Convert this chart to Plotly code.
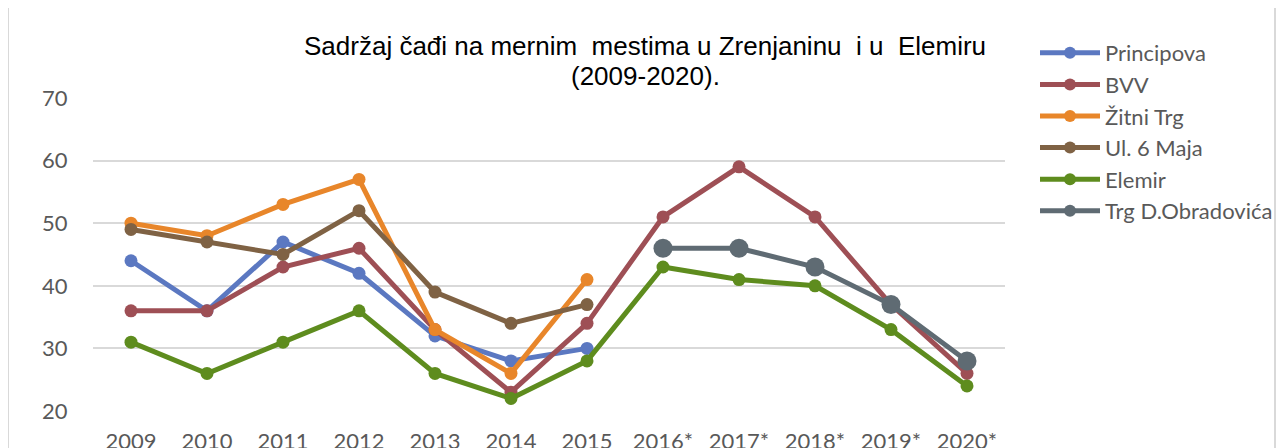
import plotly.graph_objects as go

years = ["2009", "2010", "2011", "2012", "2013", "2014", "2015",
         "2016*", "2017*", "2018*", "2019*", "2020*"]

principova = [44, 36, 47, 42, 32, 28, 30, None, None, None, None, None]
bvv = [36, 36, 43, 46, 33, 23, 34, 51, 59, 51, 37, 26]
zitni_trg = [50, 48, 53, 57, 33, 26, 41, None, None, None, None, None]
ul_6_maja = [49, 47, 45, 52, 39, 34, 37, None, None, None, None, None]
elemir = [31, 26, 31, 36, 26, 22, 28, 43, 41, 40, 33, 24]
trg_obradovica = [None, None, None, None, None, None, None, 46, 46, 43, 37, 28]

series = [
    ("Principova", principova, "#5B78C1", 13),
    ("BVV", bvv, "#9E4F55", 13),
    ("Žitni Trg", zitni_trg, "#E8862A", 13),
    ("Ul. 6 Maja", ul_6_maja, "#7F6244", 13),
    ("Elemir", elemir, "#5E8C1E", 13),
    ("Trg D.Obradovića", trg_obradovica, "#5F6B73", 19),
]

fig = go.Figure()
for i, (name, vals, color, msize) in enumerate(series):
    fig.add_trace(go.Scatter(
        x=years, y=vals, name=name, mode="lines+markers",
        line=dict(color=color, width=5),
        marker=dict(color=color, size=msize),
        legendgroup=f"g{i}",
    ))

# the page body has an 8px margin; positions below are page pixels
OFF = 8
W0, W1 = 93 - OFF, 1005 - OFF
H0, H1 = 98 - OFF, 411 - OFF
pw, ph = W1 - W0, H1 - H0

def px(x):
    return (x - OFF - W0) / pw

def py(y):
    return (H1 - (y - OFF)) / ph

fig.update_layout(
    width=1288, height=448,
    margin=dict(l=W0, r=1288 - W1, t=H0, b=448 - H1, pad=0, autoexpand=False),
    paper_bgcolor="white", plot_bgcolor="white",
    font=dict(family="Lato", color="#595959"),
    showlegend=True,
    legend=dict(
        x=px(1035), y=py(32), xanchor="left", yanchor="top",
        font=dict(family="Lato", size=22, color="#595959"),
        itemwidth=60, tracegroupgap=0, traceorder="grouped",
        itemsizing="constant",
        bgcolor="rgba(0,0,0,0)",
    ),
    xaxis=dict(
        type="category", range=[-0.5, 11.5], showgrid=False, zeroline=False,
        showline=False, ticks="outside", ticklen=0, automargin=False,
        tickfont=dict(family="Lato", size=22, color="#595959"),
        ticklabelstandoff=11,
    ),
    yaxis=dict(
        range=[20, 70], dtick=10, showgrid=True, gridcolor="#D9D9D9", gridwidth=2,
        zeroline=False, showline=False, ticks="outside", ticklen=0, automargin=False,
        tickfont=dict(family="Lato", size=22, color="#595959"),
        ticklabelstandoff=20,
    ),
    annotations=[
        dict(text="Sadržaj čađi na mernim  mestima u Zrenjaninu  i u  Elemiru",
             xref="paper", yref="paper", x=px(302), y=py(46),
             xanchor="left", yanchor="middle", showarrow=False,
             font=dict(family="Liberation Sans", size=26, color="#000000")),
        dict(text="(2009-2020).",
             xref="paper", yref="paper", x=px(645), y=py(76),
             xanchor="center", yanchor="middle", showarrow=False,
             font=dict(family="Liberation Sans", size=26, color="#000000")),
    ],
    shapes=[
        dict(type="rect", xref="paper", yref="paper",
             x0=px(8), x1=px(1275), y0=py(470), y1=py(7),
             line=dict(color="#D9D9D9", width=2), fillcolor="rgba(0,0,0,0)",
             layer="below"),
    ],
)

fig.write_html("out.html")
